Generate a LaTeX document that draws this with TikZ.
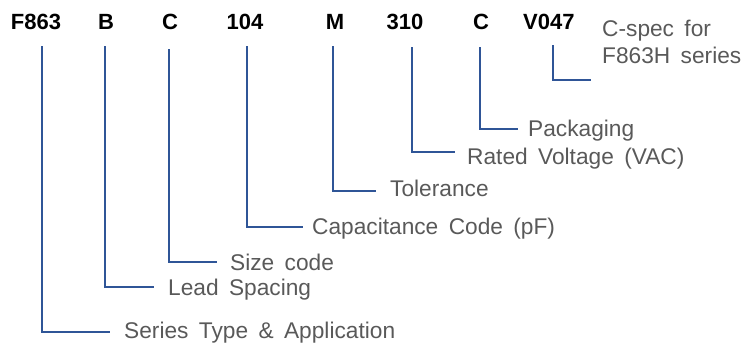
\documentclass[tikz,border=0pt]{standalone}
\usepackage{fontspec}
\setmainfont{Liberation Sans}[WordSpace=1.65]
\definecolor{lblgray}{HTML}{595959}
\definecolor{connblue}{HTML}{2F5597}
\begin{document}
\begin{tikzpicture}[x=1pt,y=-1pt,
  head/.style={anchor=base,inner sep=0pt,font=\fontsize{22}{24}\selectfont\bfseries,text=black},
  lbl/.style={anchor=base west,inner sep=0pt,font=\fontsize{22.7}{27}\selectfont,text=lblgray,align=left},
  conn/.style={draw=connblue,line width=2.2pt}]
\useasboundingbox (0,0) rectangle (745,343);
% header codes
\node[head] (hF) at (36,29) {F863};
\node[head] (hB) at (106,29) {B};
\node[head] (hC) at (170,29) {C};
\node[head] (hCap) at (245,29) {104};
\node[head] (hM) at (335,29) {M};
\node[head] (hV) at (405,29) {310};
\node[head] (hP) at (481,29) {C};
\node[head,anchor=base west] (hS) at (523,29) {V047};
% labels
\node[lbl] (lF) at (124,338) {Series Type \& Application};
\node[lbl] (lB) at (168,295) {Lead Spacing};
\node[lbl] (lC) at (230,270) {Size code};
\node[lbl] (lCap) at (312,234) {Capacitance Code (pF)};
\node[lbl] (lM) at (390,196) {Tolerance};
\node[lbl] (lV) at (467,164) {Rated Voltage (VAC)};
\node[lbl] (lP) at (528,136) {Packaging};
\node[lbl,anchor=base west] (lS) at (602,63) {C-spec for\\[-0.8pt]F863H series};
% connector coordinates
\coordinate (tF) at (42,46);   \coordinate (eF) at (110,332);
\coordinate (tB) at (105,46);  \coordinate (eB) at (154,287);
\coordinate (tC) at (169,49);  \coordinate (eC) at (217,262);
\coordinate (tCap) at (247,46);\coordinate (eCap) at (303,227);
\coordinate (tM) at (333,46);  \coordinate (eM) at (376,191);
\coordinate (tV) at (412,47);  \coordinate (eV) at (455,152);
\coordinate (tP) at (480,47);  \coordinate (eP) at (518,129);
\coordinate (tS) at (553,45);  \coordinate (eS) at (591,80);
\foreach \n in {F,B,C,Cap,M,V,P,S}{
  \draw[conn] (t\n) |- (e\n);
}
\end{tikzpicture}
\end{document}
